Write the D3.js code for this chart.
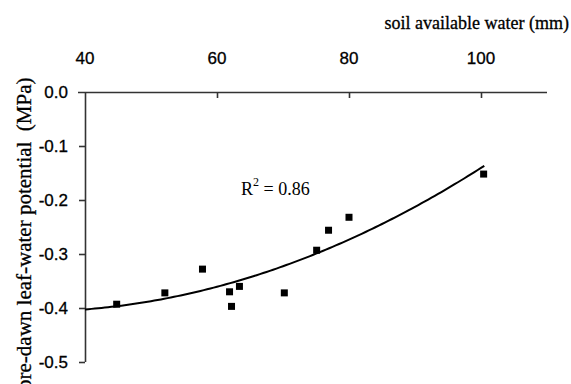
<!DOCTYPE html>
<html>
<head>
<meta charset="utf-8">
<script src="https://cdn.jsdelivr.net/npm/d3@7"></script>
<style>
  body { margin: 0; background: #fff; }
  svg { display: block; }
</style>
</head>
<body>
<svg id="chart"></svg>
<script>
// soil available water (mm) vs pre-dawn leaf-water potential (MPa)
var water = [44.8, 52.1, 57.8, 61.9, 62.2, 63.4, 70.2, 75.1, 76.9, 80.0, 100.4];
var potential = [-0.393, -0.372, -0.328, -0.370, -0.397, -0.360, -0.372, -0.293, -0.256, -0.232, -0.152];
var xTicks = [40, 60, 80, 100];
var yTicks = [0, -0.1, -0.2, -0.3, -0.4, -0.5];
var r2Label = "0.86";

var width = 571, height = 384;

var x = d3.scaleLinear().domain([40, 110]).range([85, 547]);
var y = d3.scaleLinear().domain([-0.5, 0]).range([362, 92]);

var svg = d3.select("#chart").attr("width", width).attr("height", height);

// quadratic least-squares trend line through the points
function quadFit(xs, ys) {
  var n = xs.length, s = [0, 0, 0, 0, 0], t = [0, 0, 0];
  for (var i = 0; i < n; i++) {
    var p = 1;
    for (var k = 0; k < 5; k++) { s[k] += p; if (k < 3) t[k] += p * ys[i]; p *= xs[i]; }
  }
  var A = [[s[0], s[1], s[2], t[0]], [s[1], s[2], s[3], t[1]], [s[2], s[3], s[4], t[2]]];
  for (var c = 0; c < 3; c++) {
    for (var r = c + 1; r < 3; r++) {
      var f = A[r][c] / A[c][c];
      for (var j = c; j < 4; j++) A[r][j] -= f * A[c][j];
    }
  }
  var b = [0, 0, 0];
  for (var r2 = 2; r2 >= 0; r2--) {
    var v = A[r2][3];
    for (var j2 = r2 + 1; j2 < 3; j2++) v -= A[r2][j2] * b[j2];
    b[r2] = v / A[r2][r2];
  }
  return function(v) { return b[0] + b[1] * v + b[2] * v * v; };
}
var trend = quadFit(water, potential);
var curveX = d3.range(40, 100.6, 0.5);

// axes
var xAxis = g => g
  .attr("transform", "translate(0," + y(0) + ")")
  .call(d3.axisTop(x).tickValues(xTicks.slice(1)).tickSize(-6).tickSizeOuter(0).tickFormat(""))
  .call(g => g.select(".domain").attr("d", "M78,0.5H547"));

var yAxis = g => g
  .attr("transform", "translate(" + x(40) + ",0)")
  .call(d3.axisLeft(y).tickValues(yTicks.slice(1)).tickSize(6).tickSizeOuter(0).tickFormat(""))
  .call(g => g.select(".domain").attr("d", "M0.5," + y(0) + "V" + y(-0.5)));

svg.append("g").call(xAxis);
svg.append("g").call(yAxis);
svg.selectAll(".domain, .tick line").attr("stroke", "#333").attr("stroke-width", 1.6);

// tick labels
svg.append("g").selectAll("text").data(xTicks).enter().append("text")
  .attr("x", d => x(d)).attr("y", 64)
  .attr("text-anchor", "middle")
  .attr("font-family", "Liberation Sans, Arial, sans-serif").attr("font-size", 17)
  .attr("stroke", "#000").attr("stroke-width", 0.3)
  .text(d => d);

svg.append("g").selectAll("text").data(yTicks).enter().append("text")
  .attr("x", 68).attr("y", d => y(d)).attr("dy", "0.36em")
  .attr("text-anchor", "end")
  .attr("font-family", "Liberation Sans, Arial, sans-serif").attr("font-size", 17)
  .attr("stroke", "#000").attr("stroke-width", 0.3)
  .text(d => d3.format(".1f")(d).replace("−", "-"));

// trend line
svg.append("path")
  .datum(curveX)
  .attr("fill", "none").attr("stroke", "#000").attr("stroke-width", 2)
  .attr("d", d3.line().x(d => x(d)).y(d => y(trend(d))));

// points
svg.append("g").selectAll("rect").data(water).enter().append("rect")
  .attr("x", (d, i) => x(d) - 3.5).attr("y", (d, i) => y(potential[i]) - 3.5)
  .attr("width", 7).attr("height", 7).attr("fill", "#000");

// titles
svg.append("text")
  .attr("x", 569).attr("y", 29).attr("text-anchor", "end")
  .attr("font-family", "Liberation Serif, Times New Roman, serif").attr("font-size", 18)
  .attr("stroke", "#000").attr("stroke-width", 0.3)
  .text("soil available water (mm)");

svg.append("text")
  .attr("transform", "translate(31,390) rotate(-90)")
  .attr("font-family", "Liberation Serif, Times New Roman, serif").attr("font-size", 21)
  .attr("stroke", "#000").attr("stroke-width", 0.3)
  .attr("xml:space", "preserve")
  .text("pre-dawn leaf-water potential  (MPa)");

var r2 = svg.append("text")
  .attr("x", 241).attr("y", 195)
  .attr("font-family", "Liberation Serif, Times New Roman, serif").attr("font-size", 18);
r2.append("tspan").text("R");
r2.append("tspan").attr("dy", -9).attr("font-size", 12).text("2");
r2.append("tspan").attr("dy", 9).text(" = " + r2Label);
</script>
</body>
</html>
